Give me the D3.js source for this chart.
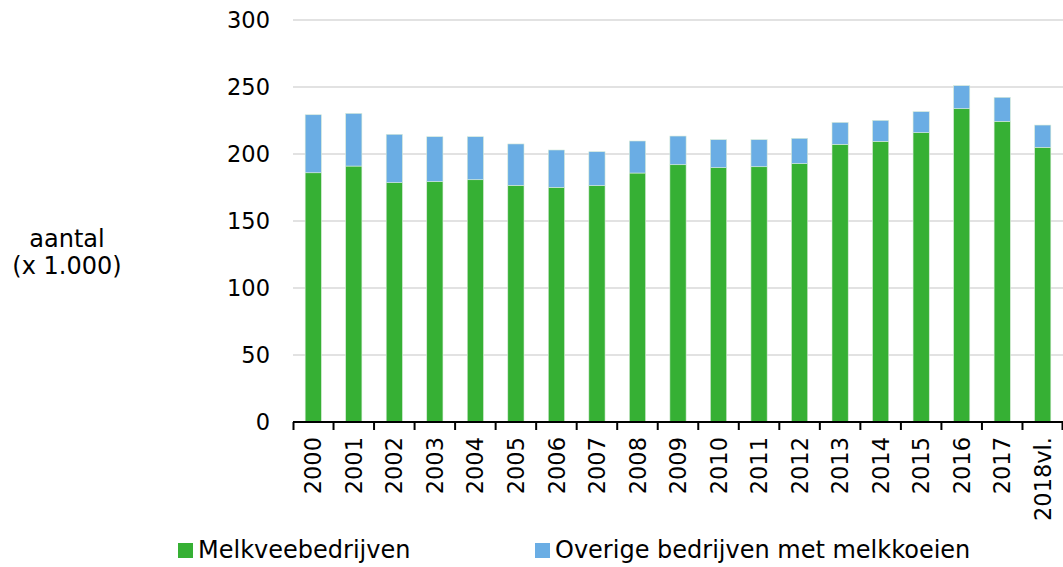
<!DOCTYPE html>
<html>
<head>
<meta charset="utf-8">
<script src="https://cdn.jsdelivr.net/npm/d3@7"></script>
<style>
  body { margin: 0; background: #fff; }
  text { font-family: "DejaVu Sans", Verdana, sans-serif; fill: #000; }
</style>
</head>
<body>
<div id="chart"></div>
<script>
// categories and series (x 1.000)
var years = ["2000","2001","2002","2003","2004","2005","2006","2007","2008","2009",
             "2010","2011","2012","2013","2014","2015","2016","2017","2018vl."];
var melkvee = [186, 191, 178.6, 179.4, 180.8, 176.6, 175.1, 176.4, 185.8, 192,
               189.8, 190.5, 192.8, 207.2, 209.4, 215.9, 233.8, 224.4, 205];
var overige = [43.3, 39.3, 36.1, 33.5, 32.1, 30.9, 27.9, 25.3, 23.9, 21.4,
               20.9, 20.2, 18.9, 16.4, 15.7, 15.7, 17.2, 17.9, 16.6];
var yTicks = [0, 50, 100, 150, 200, 250, 300];
var seriesNames = ["Melkveebedrijven", "Overige bedrijven met melkkoeien"];
var colors = ["#36b034", "#6aade4"];

var width = 1063, height = 567;
var margin = {top: 20, right: 0, bottom: 145, left: 293};

var svg = d3.select("#chart").append("svg")
    .attr("width", width)
    .attr("height", height);

// table for the stack
var table = years.map(function(y, i) {
    return {year: y, m: melkvee[i], o: overige[i]};
});
var stacked = d3.stack().keys(["m", "o"])(table);

var x = d3.scaleBand()
    .domain(years)
    .range([margin.left, width - margin.right])
    .paddingInner(0.6)
    .paddingOuter(0.3);

var y = d3.scaleLinear()
    .domain([0, 300])
    .range([height - margin.bottom, margin.top]);

// gridlines
svg.append("g")
    .selectAll("line")
    .data(yTicks.filter(function(d) { return d > 0; }))
    .enter()
    .append("line")
    .attr("x1", margin.left)
    .attr("x2", width - margin.right)
    .attr("y1", function(d) { return y(d); })
    .attr("y2", function(d) { return y(d); })
    .attr("stroke", "#d9d9d9")
    .attr("stroke-width", 1.5);

// y tick labels
svg.append("g")
    .selectAll("text")
    .data(yTicks)
    .enter()
    .append("text")
    .attr("x", 270)
    .attr("y", function(d) { return y(d); })
    .attr("dy", "0.36em")
    .attr("text-anchor", "end")
    .style("font-size", "22.5px")
    .text(function(d) { return d; });

// bars
svg.append("g")
    .selectAll("g")
    .data(stacked)
    .enter()
    .append("g")
    .attr("fill", function(d, i) { return colors[i]; })
    .selectAll("rect")
    .data(function(d) { return d; })
    .enter()
    .append("rect")
    .attr("x", function(d) { return x(d.data.year); })
    .attr("width", x.bandwidth())
    .attr("y", function(d) { return y(d[1]); })
    .attr("height", function(d) { return y(d[0]) - y(d[1]); })
    .attr("stroke", "#d8ecd8")
    .attr("stroke-width", 0.6);

// x axis: ticks between categories
var xAxisG = svg.append("g")
    .attr("transform", "translate(0," + y(0) + ")");
var bounds = years.map(function(d) { return x(d) - x.step() * 0.3; });
bounds.push(width - margin.right - 0.5);
bounds[0] = margin.left + 0.5;

xAxisG.append("line")
    .attr("x1", margin.left)
    .attr("x2", width - margin.right)
    .attr("stroke", "#000")
    .attr("stroke-width", 2);

xAxisG.selectAll(".tick")
    .data(bounds)
    .enter()
    .append("line")
    .attr("class", "tick")
    .attr("x1", function(d) { return d; })
    .attr("x2", function(d) { return d; })
    .attr("y1", 0)
    .attr("y2", 8)
    .attr("stroke", "#000")
    .attr("stroke-width", 2);

xAxisG.selectAll(".lbl")
    .data(years)
    .enter()
    .append("text")
    .attr("class", "lbl")
    .attr("transform", function(d) {
        return "translate(" + (x(d) + x.bandwidth() / 2) + ",15) rotate(-90)";
    })
    .attr("dy", "0.36em")
    .attr("text-anchor", "end")
    .style("font-size", "22.5px")
    .text(function(d) { return d; });

// y axis title
var yTitle = svg.append("text")
    .attr("x", 67)
    .attr("y", 247)
    .attr("text-anchor", "middle")
    .style("font-size", "24px");
yTitle.append("tspan").attr("x", 67).text("aantal");
yTitle.append("tspan").attr("x", 67).attr("dy", 27).text("(x 1.000)");

// legend
var legendX = [178, 535];
var legend = svg.append("g")
    .selectAll("g")
    .data(seriesNames)
    .enter()
    .append("g")
    .attr("transform", function(d, i) { return "translate(" + legendX[i] + ",543)"; });

legend.append("rect")
    .attr("width", 15)
    .attr("height", 15)
    .attr("fill", function(d, i) { return colors[i]; });

legend.append("text")
    .attr("x", 20)
    .attr("y", 15)
    .style("font-size", "24px")
    .text(function(d) { return d; });
</script>
</body>
</html>
